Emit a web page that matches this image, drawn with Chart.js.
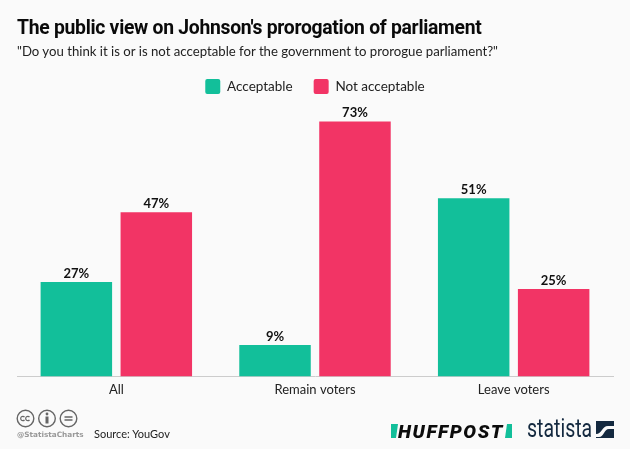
<!DOCTYPE html>
<html>
<head>
<meta charset="utf-8">
<script src="https://cdn.jsdelivr.net/npm/chart.js@4"></script>
<style>
  html, body { margin: 0; padding: 0; background: #fafafa; }
  #wrap { position: relative; width: 630px; height: 449px; overflow: hidden; font-family: Lato, sans-serif; color: #111; }
  #wrap canvas { position: absolute; left: 0; top: 0; }
  .abs { position: absolute; white-space: nowrap; }
  #title { left: 17px; top: 15px; font: 700 20.5px Roboto, sans-serif; letter-spacing: -0.3px; color: #0a0a0a; transform: scaleX(0.943); transform-origin: left top; }
  #subtitle { left: 17px; top: 43px; font: 400 13.2px Lato, sans-serif; color: #222; }
  #source { left: 94px; top: 427px; font: 400 11px Lato, sans-serif; color: #222; }
  #handle { left: 17px; top: 430px; font: 700 7.3px "DejaVu Sans", sans-serif; color: #999; }
  #huff { left: 398px; top: 420px; font: italic 900 19px Roboto, sans-serif; letter-spacing: 1.6px; color: #0c0c0c; }
  #statista { left: 527px; top: 414px; font: 400 25px Roboto, sans-serif; color: #14293f; transform: scaleX(0.78); transform-origin: left top; }
</style>
</head>
<body>
<div id="wrap">
  <canvas id="chart" width="630" height="449"></canvas>
  <div class="abs" id="title">The public view on Johnson's prorogation of parliament</div>
  <div class="abs" id="subtitle">"Do you think it is or is not acceptable for the government to prorogue parliament?"</div>
  <svg class="abs" style="left:16px;top:409px" width="64" height="20" fill="none" stroke="#666" stroke-width="1.4">
    <circle cx="9.5" cy="9.5" r="8.3"/><circle cx="31" cy="9.5" r="8.3"/><circle cx="52.5" cy="9.5" r="8.3"/>
    <path d="M8.5 8a2.2 2.2 0 1 0 0 3M13.5 8a2.2 2.2 0 1 0 0 3" stroke-width="1.2"/>
    <circle cx="31" cy="5" r="1.4" fill="#666" stroke="none"/>
    <path d="M31 7.5v7" stroke-width="3"/>
    <path d="M48.5 8h8M48.5 11h8" stroke-width="1.4"/>
  </svg>
  <div class="abs" id="handle">@StatistaCharts</div>
  <div class="abs" id="source">Source: YouGov</div>
  <svg class="abs" style="left:390px;top:424px" width="124" height="15">
    <path d="M1 0h7l-2 14H1z" fill="#12bf9a"/>
    <path d="M117 0h5v14h-7z" fill="#12bf9a"/>
  </svg>
  <div class="abs" id="huff">HUFFPOST</div>
  <div class="abs" id="statista">statista</div>
  <svg class="abs" style="left:596px;top:421px" width="18" height="17">
    <rect width="18" height="17" fill="#14293f"/>
    <path d="M0 13c6 0 6-8 12-8h6v3h-5c-5 0-5 8-10 8H0z" fill="#fafafa"/>
  </svg>
</div>
<script>
const categories = ['All', 'Remain voters', 'Leave voters'];
const acceptable = [27, 9, 51];
const notAcceptable = [47, 73, 25];
const seriesNames = ['Acceptable', 'Not acceptable'];

// Percent labels on top of each bar
const barLabels = {
    id: 'barLabels',
    afterDatasetsDraw(chart) {
        const ctx = chart.ctx;
        ctx.save();
        ctx.font = '700 13px Lato, sans-serif';
        ctx.fillStyle = '#111';
        ctx.textAlign = 'center';
        ctx.textBaseline = 'bottom';
        chart.data.datasets.forEach((ds, i) => {
            chart.getDatasetMeta(i).data.forEach((bar, j) => {
                ctx.fillText(ds.data[j] + '%', bar.x, bar.y - 2);
            });
        });
        ctx.restore();
    }
};

new Chart(document.getElementById('chart').getContext('2d'), {
    type: 'bar',
    data: {
        labels: categories,
        datasets: [
            { label: seriesNames[0], data: acceptable, backgroundColor: '#12bf9a' },
            { label: seriesNames[1], data: notAcceptable, backgroundColor: '#f23465' }
        ]
    },
    plugins: [barLabels],
    options: {
        responsive: false,
        animation: false,
        categoryPercentage: 0.805,
        barPercentage: 0.894,
        layout: { padding: { top: 58, left: 17, right: 17, bottom: 53 } },
        plugins: {
            tooltip: { enabled: false },
            legend: {
                display: true,
                labels: {
                    boxWidth: 15,
                    boxHeight: 15,
                    useBorderRadius: true,
                    borderRadius: 2,
                    padding: 21,
                    color: '#222',
                    font: { family: 'Lato, sans-serif', size: 13.5 }
                }
            }
        },
        scales: {
            x: {
                grid: { display: false },
                border: { color: '#cccccc' },
                ticks: { color: '#222', padding: -2, font: { family: 'Lato, sans-serif', size: 13 } }
            },
            y: { display: false, min: 0, max: 78 }
        }
    }
});
</script>
</body>
</html>
